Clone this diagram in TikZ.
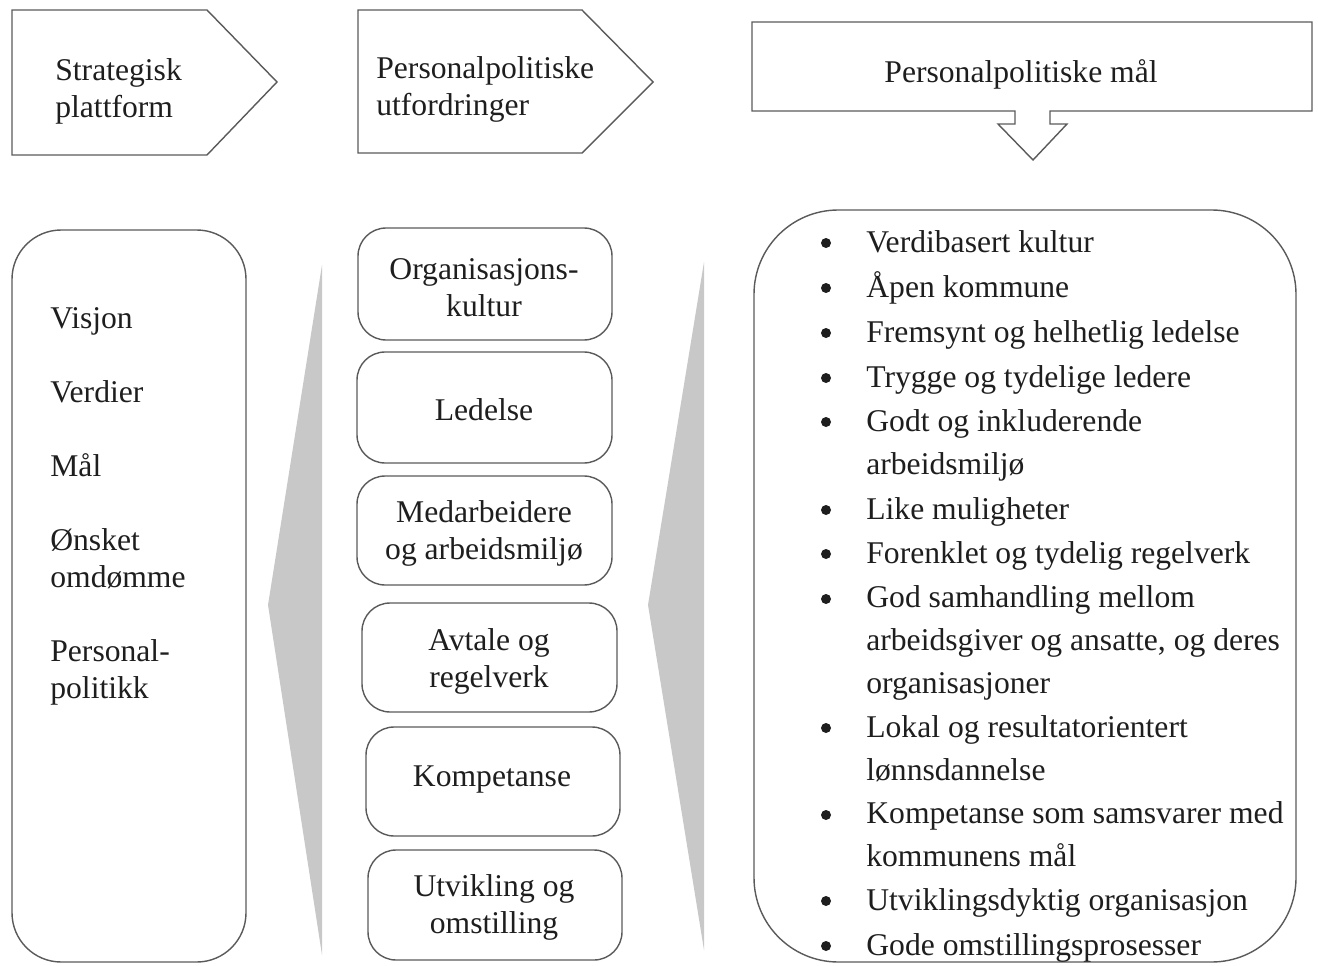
\documentclass[tikz,border=0pt]{standalone}
\usepackage{fontspec}
\setmainfont{Liberation Serif}
\definecolor{linegray}{RGB}{90,90,90}
\definecolor{textblack}{RGB}{30,30,30}
\definecolor{trigray}{RGB}{200,200,200}
\begin{document}
\begin{tikzpicture}[x=0.02cm,y=-0.02cm,
  shapeline/.style={draw=linegray, line width=0.8pt},
  txt/.style={font=\fontsize{18}{21}\selectfont, text=textblack, inner sep=0pt, yshift=-0.05cm},
  ctxt/.style={txt, align=center},
  ltxt/.style={txt, align=left, anchor=base west},
  item/.style={font=\fontsize{18}{24.4}\selectfont, text=textblack, inner sep=0pt, align=left, anchor=base west, yshift=-0.05cm},
  bul/.style={circle, fill=textblack, inner sep=0pt, minimum size=0.2cm},
  wedge/.style={fill=trigray, draw=none}]
\useasboundingbox (0,0) rectangle (1318,966);

% header shapes (base anchor = baseline of last line)
\draw[shapeline] (12,10) -- (207,10) -- (277,82) -- (207,155) -- (12,155) -- cycle;
\node[ltxt] (h1) at (55,115) {Strategisk\\plattform};
\draw[shapeline] (358,10) -- (582,10) -- (653,82) -- (582,153) -- (358,153) -- cycle;
\node[ltxt] (h2) at (376,113) {Personalpolitiske\\utfordringer};
\draw[shapeline] (752,22) -- (1312,22) -- (1312,111) -- (1050,111) -- (1050,124) -- (1067,124)
  -- (1033,160) -- (998,124) -- (1015,124) -- (1015,111) -- (752,111) -- cycle;
\node[txt] (h3) at (1021,72) {Personalpolitiske mål};

% left box
\draw[shapeline, rounded corners=28] (12,230) rectangle (246,962);
\node[ltxt] (v1) at (50,326) {Visjon};
\node[ltxt] (v2) at (50,400) {Verdier};
\node[ltxt] (v3) at (50,474) {Mål};
\node[ltxt] (v4) at (50,585) {Ønsket\\omdømme};
\node[ltxt] (v5) at (50,696) {Personal-\\politikk};

% gray wedges
\fill[wedge] (322,265) -- (322,955) -- (268,605) -- cycle;
\fill[wedge] (704,262) -- (704,950) -- (648,605) -- cycle;

% middle boxes
\draw[shapeline, rounded corners=16] (358,228) rectangle (612,340);
\node[ctxt] (m1) at (484,285) {Organisasjons-\\kultur};
\draw[shapeline, rounded corners=16] (357,352) rectangle (612,463);
\node[ctxt] (m2) at (484,407) {Ledelse};
\draw[shapeline, rounded corners=16] (357,476) rectangle (612,585);
\node[ctxt] (m3) at (484,531) {Medarbeidere\\og arbeidsmiljø};
\draw[shapeline, rounded corners=16] (362,603) rectangle (617,712);
\node[ctxt] (m4) at (489,659) {Avtale og\\regelverk};
\draw[shapeline, rounded corners=16] (366,727) rectangle (620,836);
\node[ctxt] (m5) at (492,777) {Kompetanse};
\draw[shapeline, rounded corners=16] (368,850) rectangle (622,960);
\node[ctxt] (m6) at (494,905) {Utvikling og\\omstilling};

% right box
\draw[shapeline, rounded corners=48] (754,210) rectangle (1296,962);
\foreach \y/\ly/\t [count=\i] in {
  250/250/{Verdibasert kultur},
  295/295/{Åpen kommune},
  340/340/{Fremsynt og helhetlig ledelse},
  385/385/{Trygge og tydelige ledere},
  429/472/{Godt og inkluderende\\arbeidsmiljø},
  517/517/{Like muligheter},
  561/561/{Forenklet og tydelig regelverk},
  606/691/{God samhandling mellom\\arbeidsgiver og ansatte, og deres\\organisasjoner},
  735/778/{Lokal og resultatorientert\\lønnsdannelse},
  822/864/{Kompetanse som samsvarer med\\kommunens mål},
  908/908/{Utviklingsdyktig organisasjon},
  953/953/{Gode omstillingsprosesser}}{
  \node[bul] (b\i) at (826,\y-7) {};
  \node[item] (r\i) at (866,\ly) {\t};
}
\end{tikzpicture}
\end{document}
